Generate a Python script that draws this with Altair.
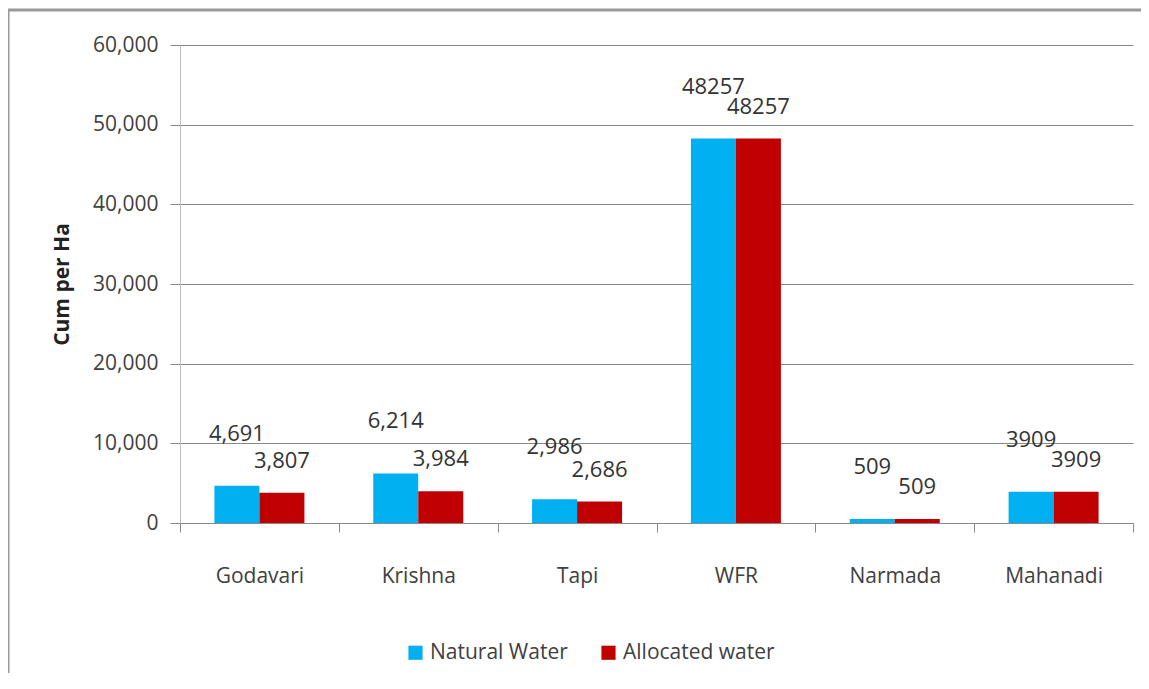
import altair as alt
import pandas as pd

categories = ["Godavari", "Krishna", "Tapi", "WFR", "Narmada", "Mahanadi"]
series = ["Natural Water", "Allocated water"]
natural = [4691, 6214, 2986, 48257, 509, 3909]
allocated = [3807, 3984, 2686, 48257, 509, 3909]
natural_labels = ["4,691", "6,214", "2,986", "48257", "509", "3909"]
allocated_labels = ["3,807", "3,984", "2,686", "48257", "509", "3909"]
colors = ["#00B0F0", "#C00000"]
y_ticks = [0, 10000, 20000, 30000, 40000, 50000, 60000]

rows = []
for c, v, l in zip(categories, natural, natural_labels):
    rows.append({"basin": c, "series": series[0], "value": v, "label": l})
for c, v, l in zip(categories, allocated, allocated_labels):
    rows.append({"basin": c, "series": series[1], "value": v, "label": l})
df = pd.DataFrame(rows)

FONT = "Open Sans"
W, H = 953, 478

x = alt.X("basin:N", sort=categories,
          scale=alt.Scale(paddingInner=0, paddingOuter=0),
          axis=alt.Axis(title=None, labelAngle=0, labelFontSize=21, labelColor="#404040",
                        labelFont=FONT, labelPadding=33, tickBand="extent", tickSize=9,
                        tickColor="#888", domainColor="#888", grid=False))
xo = alt.XOffset("series:N", sort=series,
                 scale=alt.Scale(paddingInner=0, paddingOuter=0.765))
y = alt.Y("value:Q", scale=alt.Scale(domain=[0, 60000], nice=False),
          axis=alt.Axis(values=y_ticks, format=",d", title="Cum per Ha", titleFontSize=21,
                        titleFont=FONT, titleFontWeight="bold", titleColor="#222",
                        titlePadding=20, labelFontSize=21, labelFont=FONT, labelColor="#404040",
                        labelPadding=12, tickSize=10, tickColor="#888", gridColor="#888",
                        domainColor="#bbb"))

base = alt.Chart(df)
bars = base.mark_bar().encode(
    x=x, xOffset=xo, y=y,
    color=alt.Color("series:N", sort=series,
                    scale=alt.Scale(domain=series, range=colors),
                    legend=alt.Legend(title=None)),
)
text_nat = base.transform_filter(alt.datum.series == series[0]).mark_text(
    font=FONT, fontSize=22, color="#333", baseline="middle", dy=-52
).encode(x=x, xOffset=xo, y=y, text="label:N")
text_all = base.transform_filter(alt.datum.series == series[1]).mark_text(
    font=FONT, fontSize=22, color="#333", baseline="middle", dy=-32
).encode(x=x, xOffset=xo, y=y, text="label:N")

frame = alt.Data(values=[{}])
top_rule = alt.Chart(frame).mark_rule(color="#999", strokeWidth=3).encode(
    x=alt.value(-172), x2=alt.value(969), y=alt.value(-35), y2=alt.value(-35))
left_rule = alt.Chart(frame).mark_rule(color="#999", strokeWidth=3).encode(
    x=alt.value(-172), x2=alt.value(-172), y=alt.value(-35), y2=alt.value(644))

chart = alt.layer(bars, text_nat, text_all, top_rule, left_rule).properties(
    width=W, height=H, autosize="none",
    padding={"left": 172, "top": 37, "right": 8, "bottom": 150},
).configure_view(stroke=None).configure_legend(
    orient="none", legendX=225, legendY=597, direction="horizontal",
    symbolType="square", symbolSize=200, symbolStrokeWidth=0,
    labelFontSize=21, labelFont=FONT, labelColor="#404040", columnPadding=30,
)

chart.save("out.html", embed_options={"renderer": "svg", "actions": False})
